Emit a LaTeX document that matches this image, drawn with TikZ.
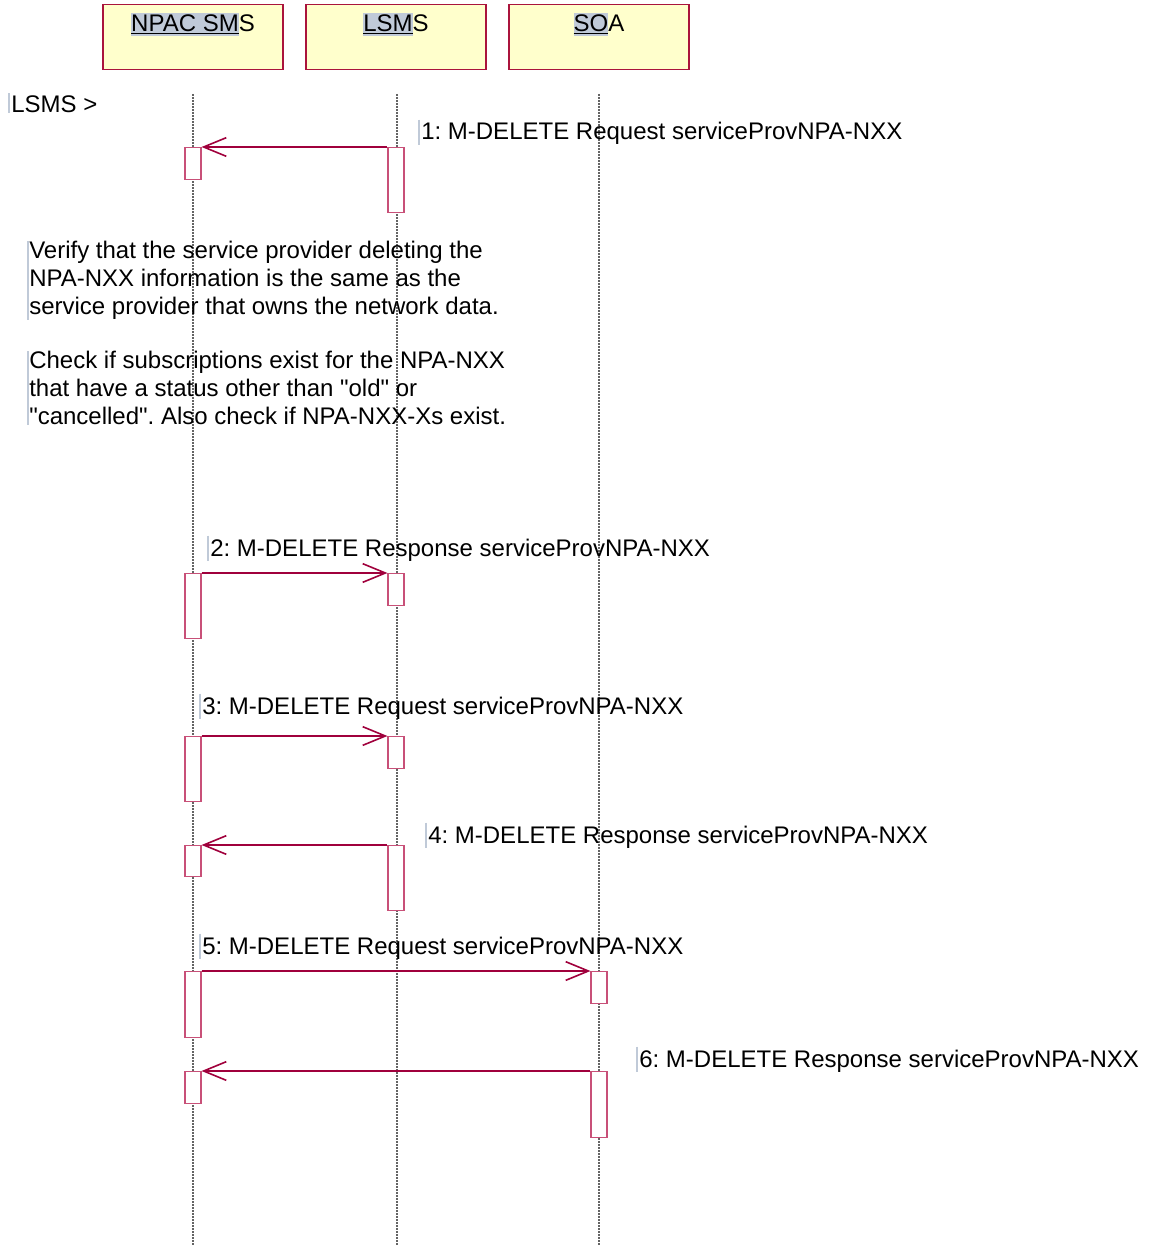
\documentclass[tikz,border=0pt]{standalone}
\usepackage{fontspec}
\setmainfont{Liberation Sans}[Ligatures=TeXOff]
\usetikzlibrary{arrows.meta}
\definecolor{boxfill}{RGB}{255,255,204}
\definecolor{boxdraw}{RGB}{170,20,60}
\definecolor{msgcol}{RGB}{160,0,60}
\definecolor{actdraw}{RGB}{200,80,120}
\definecolor{hlcol}{RGB}{192,202,216}
\definecolor{lifecol}{RGB}{100,100,100}
\newcommand\hlpart[1]{{\setlength\fboxsep{0pt}\colorbox{hlcol}{\rule[-3pt]{0pt}{17pt}\underline{#1}}}}
\frenchspacing
\begin{document}
\begin{tikzpicture}[x=0.75pt,y=-0.75pt,
  every node/.style={font=\fontsize{18}{21}\selectfont},
  head/.style={draw=boxdraw,fill=boxfill,line width=0.9pt,anchor=north,
    minimum width=135pt,inner xsep=0pt,inner ysep=0pt,text height=20.25pt,text depth=28.5pt},
  life/.style={draw=lifecol,line width=0.8pt,dash pattern=on 1.5pt off 0.75pt},
  act/.style={draw=actdraw,fill=white,line width=0.8pt,anchor=north,minimum width=12pt,inner sep=0pt},
  msg/.style={draw=msgcol,line width=0.9pt,-{Straight Barb[length=17pt,width=14pt,line width=1.2pt]}},
  lbl/.style={anchor=base west,inner sep=0pt,
    append after command={([xshift=-1.5pt,yshift=2pt]\tikzlastnode.north west) edge[draw=hlcol,line width=1.5pt] ([xshift=-1.5pt]\tikzlastnode.south west)}},
  note/.style={anchor=north west,inner sep=0pt,align=left}
]
\useasboundingbox (0,0) rectangle (1152,1245);
% headers
\node[head] (hn) at (193,4) {\hlpart{NPAC SM}S};
\node[head] (hl) at (396,4) {\hlpart{LSM}S};
\node[head] (hs) at (599,4) {\hlpart{SO}A};
% lifelines
\coordinate (en) at (193,1245);
\coordinate (el) at (397,1245);
\coordinate (es) at (599,1245);
\draw[life] (193,94) coordinate (tn) -- (en);
\draw[life] (397,94) coordinate (tl) -- (el);
\draw[life] (599,94) coordinate (ts) -- (es);
% label LSMS
\node[lbl] (who) at (11,113) {LSMS >};
% activations
\node[act,minimum height=24pt]   (n1) at (193,147) {};
\node[act,minimum height=48.75pt](l1) at (396,147) {};
\node[act,minimum height=48.75pt](n2) at (193,573) {};
\node[act,minimum height=24pt]   (l2) at (396,573) {};
\node[act,minimum height=48.75pt](n3) at (193,736) {};
\node[act,minimum height=24pt]   (l3) at (396,736) {};
\node[act,minimum height=23.25pt](n4) at (193,845) {};
\node[act,minimum height=48.75pt](l4) at (396,845) {};
\node[act,minimum height=49.5pt] (n5) at (193,971) {};
\node[act,minimum height=24pt]   (s5) at (599,971) {};
\node[act,minimum height=24pt]   (n6) at (193,1071) {};
\node[act,minimum height=49.5pt] (s6) at (599,1071) {};
% messages
\draw[msg] (l1.north west) -- (n1.north east);
\draw[msg] (n2.north east) -- (l2.north west);
\draw[msg] (n3.north east) -- (l3.north west);
\draw[msg] (l4.north west) -- (n4.north east);
\draw[msg] (n5.north east) -- (s5.north west);
\draw[msg] (s6.north west) -- (n6.north east);
% labels
\node[lbl] (m1) at (421,140) {1: M-DELETE Request serviceProvNPA-NXX};
\node[lbl] (m2) at (210,556) {2: M-DELETE Response serviceProvNPA-NXX};
\node[lbl] (m3) at (202,714) {3: M-DELETE Request serviceProvNPA-NXX};
\node[lbl] (m4) at (428,843) {4: M-DELETE Response serviceProvNPA-NXX};
\node[lbl] (m5) at (202,954) {5: M-DELETE Request serviceProvNPA-NXX};
\node[lbl] (m6) at (639,1067) {6: M-DELETE Response serviceProvNPA-NXX};
% note
\node[note] (p1) at (29,241) {Verify that the service provider deleting the\\NPA-NXX information is the same as the\\service provider that owns the network data.};
\node[note] (p2) at (29,351) {Check if subscriptions exist for the NPA-NXX\\that have a status other than "old" or\\"cancelled". Also check if NPA-NXX-Xs exist.};
\draw[draw=hlcol,line width=1.5pt] ([xshift=-1pt]p1.north west) -- ([xshift=-1pt]p1.south west);
\draw[draw=hlcol,line width=1.5pt] ([xshift=-1pt]p2.north west) -- ([xshift=-1pt]p2.south west);
\end{tikzpicture}
\end{document}
